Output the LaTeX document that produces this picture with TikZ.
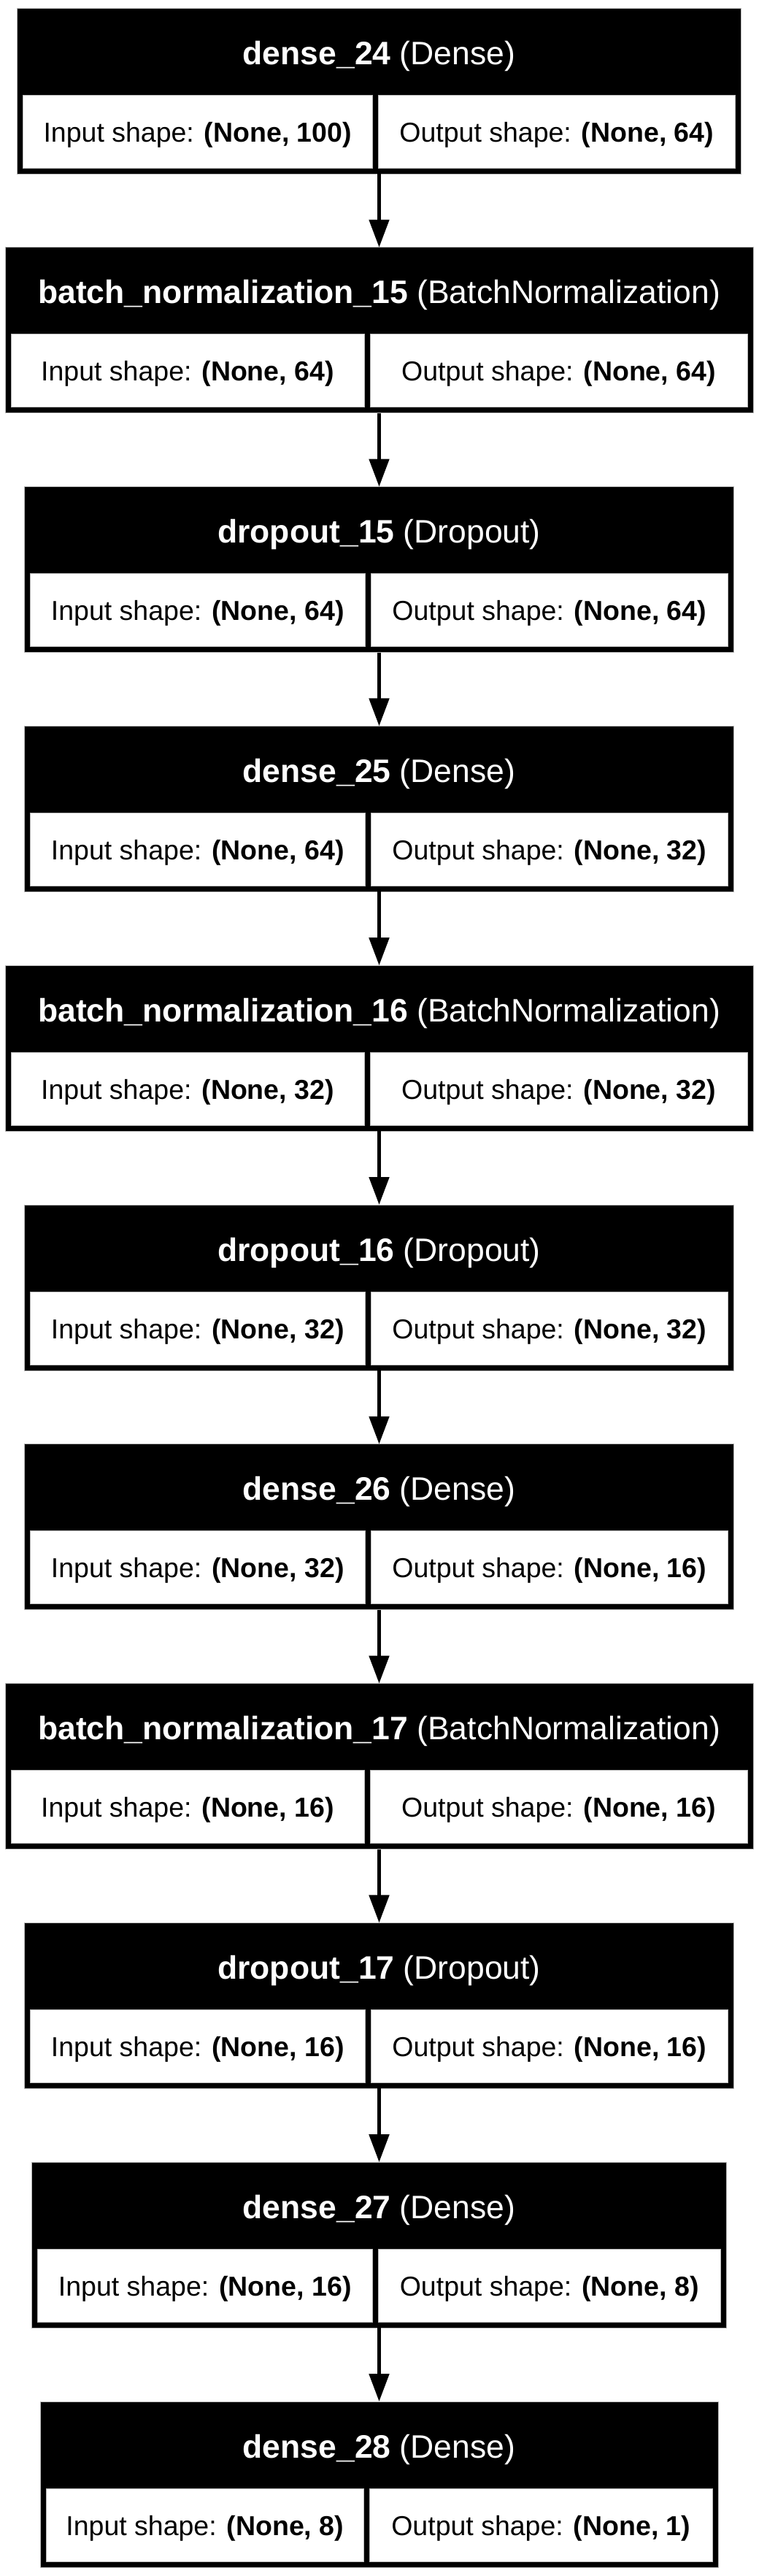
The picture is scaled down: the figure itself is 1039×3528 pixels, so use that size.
\documentclass[tikz,border=0pt]{standalone}
\usepackage{fontspec}
\setmainfont{Liberation Sans}
\usetikzlibrary{arrows.meta}
\tikzset{
  blockbox/.style={draw=gray!55, line width=1pt, fill=black, inner sep=0pt, outer sep=0pt},
  cellbox/.style={draw=gray!55, line width=1pt, fill=white, inner sep=0pt, outer sep=0pt},
  titletext/.style={text=white, inner sep=0pt, anchor=base, font=\fontsize{44.5}{50}\selectfont},
  celltext/.style={text=black, inner sep=0pt, anchor=base, font=\fontsize{37.5}{42}\selectfont},
  flow/.style={line width=5pt, draw=black, -{Triangle[length=38pt, width=27pt]}, shorten >=0pt}
}
% #1 name, #2 top y, #3 half width, #4 divider centre x, #5 layer name, #6 class, #7 input, #8 output
\newcommand\layerbox[8]{%
  \node[blockbox, minimum width={2*#3*1pt}, minimum height=227pt] (#1) at (519.5,{#2+113.5}) {};
  \node[cellbox, minimum width={(#4+#3-531.5)*1pt}, minimum height=100pt] (#1in) at ({(523.5-#3+#4)/2},{#2+169}) {};
  \node[cellbox, minimum width={(507.5+#3-#4)*1pt}, minimum height=100pt] (#1out) at ({(#4+#3+515.5)/2},{#2+169}) {};
  \node[titletext] (#1t) at (519.5,{#2+77}) {\textbf{#5} (#6)};
  \node[celltext] (#1it) at ({(523.5-#3+#4)/2},{#2+183}) {Input shape: \textbf{(None, #7)}};
  \node[celltext] (#1ot) at ({(#4+#3+515.5)/2},{#2+183}) {Output shape: \textbf{(None, #8)}};
}
\begin{document}
\begin{tikzpicture}[x=1pt,y=-1pt]
\fill[white] (0,0) rectangle (1039,3528);
\useasboundingbox (0,0) rectangle (1039,3528);
\layerbox{L0}{11}{496}{514}{dense\_24}{Dense}{100}{64}
\layerbox{L1}{338.8}{512.5}{503}{batch\_normalization\_15}{BatchNormalization}{64}{64}
\layerbox{L2}{666.6}{486}{504}{dropout\_15}{Dropout}{64}{64}
\layerbox{L3}{994.4}{486}{504}{dense\_25}{Dense}{64}{32}
\layerbox{L4}{1322.2}{512.5}{503}{batch\_normalization\_16}{BatchNormalization}{32}{32}
\layerbox{L5}{1650}{486}{504}{dropout\_16}{Dropout}{32}{32}
\layerbox{L6}{1977.8}{486}{504}{dense\_26}{Dense}{32}{16}
\layerbox{L7}{2305.6}{512.5}{503}{batch\_normalization\_17}{BatchNormalization}{16}{16}
\layerbox{L8}{2633.4}{486}{504}{dropout\_17}{Dropout}{16}{16}
\layerbox{L9}{2961.2}{476}{514}{dense\_27}{Dense}{16}{8}
\layerbox{L10}{3289}{464.5}{502.5}{dense\_28}{Dense}{8}{1}
\foreach \a/\b in {L0/L1,L1/L2,L2/L3,L3/L4,L4/L5,L5/L6,L6/L7,L7/L8,L8/L9,L9/L10}
  \draw[flow] (\a.south) -- (\b.north);
\end{tikzpicture}
\end{document}
